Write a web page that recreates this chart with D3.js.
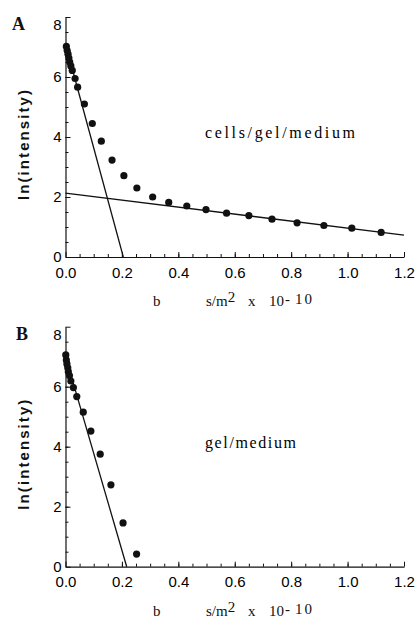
<!DOCTYPE html>
<html>
<head>
<meta charset="utf-8">
<script src="https://cdn.jsdelivr.net/npm/d3@7"></script>
<style>
    body { margin: 0; background: #fff; }
    svg { display: block; }
    .tick-label text { font-family: "Liberation Sans", Arial, sans-serif; font-size: 15px; fill: #000; }
    .domain { stroke: #111; stroke-width: 1.2; }
    .tick line { stroke: #111; stroke-width: 1; }
</style>
</head>
<body>
<svg id="chart" width="415" height="618"></svg>
<script>
// panel A: cells/gel/medium
var bA = [0.003, 0.006, 0.009, 0.012, 0.015, 0.019, 0.024, 0.034, 0.043, 0.067, 0.095, 0.127, 0.165,
          0.207, 0.253, 0.309, 0.366, 0.430, 0.498, 0.571, 0.650, 0.732, 0.821, 0.916, 1.015, 1.119];
var lnA = [7.02, 6.88, 6.76, 6.63, 6.50, 6.37, 6.22, 5.95, 5.66, 5.10, 4.45, 3.86, 3.23,
           2.71, 2.30, 2.00, 1.82, 1.70, 1.58, 1.46, 1.38, 1.26, 1.14, 1.05, 0.96, 0.82];
// fitted lines, [x0, y0, x1, y1]
var fastFitA = [0, 7.10, 0.205, 0];
var slowFitA = [0, 2.13, 1.2, 0.73];

// panel B: gel/medium
var bB = [0.001, 0.003, 0.005, 0.008, 0.010, 0.014, 0.019, 0.028, 0.040, 0.063, 0.090, 0.123, 0.161, 0.204, 0.252];
var lnB = [7.06, 6.89, 6.76, 6.63, 6.50, 6.37, 6.19, 5.97, 5.67, 5.15, 4.52, 3.75, 2.73, 1.46, 0.42];
var fastFitB = [0, 7.01, 0.217, 0];

var xTicks = [0, 0.2, 0.4, 0.6, 0.8, 1.0, 1.2];
var yTicks = [0, 2, 4, 6, 8];

var svg = d3.select('#chart');

var x = d3.scaleLinear().domain([0, 1.2]).range([65.5, 404]);

function drawPanel(opts) {
    var y = d3.scaleLinear().domain([0, 8]).range([opts.bottom, opts.bottom - 240]);
    var g = svg.append('g');

    // minor ticks, pointing inward
    g.append('g')
        .attr('transform', 'translate(' + x(0) + ',0)')
        .call(d3.axisLeft(y).tickValues(d3.range(0.5, 8, 0.5)).tickSize(-3).tickFormat(''))
        .select('.domain').remove();
    g.append('g')
        .attr('transform', 'translate(0,' + y(0) + ')')
        .call(d3.axisBottom(x).tickValues(d3.range(0.05, 1.2, 0.05)).tickSize(-3).tickFormat(''))
        .select('.domain').remove();

    // major ticks + labels
    var yAx = g.append('g')
        .attr('class', 'tick-label')
        .attr('transform', 'translate(' + x(0) + ',0)')
        .call(d3.axisLeft(y).tickValues(yTicks).tickSize(-5).tickPadding(4).tickSizeOuter(0).tickFormat(d3.format('d')));
    // top label sits a little below the end of the axis in the original
    yAx.selectAll('.tick text').filter(function(d) { return d === 8; }).attr('y', 8);

    g.append('g')
        .attr('class', 'tick-label')
        .attr('transform', 'translate(0,' + y(0) + ')')
        .call(d3.axisBottom(x).tickValues(xTicks).tickSize(-5).tickPadding(10).tickSizeOuter(0).tickFormat(d3.format('.1f')));

    // fitted lines
    opts.fits.forEach(function(f) {
        g.append('line')
            .attr('x1', x(f[0])).attr('y1', y(f[1]))
            .attr('x2', x(f[2])).attr('y2', y(f[3]))
            .attr('stroke', '#111')
            .attr('stroke-width', 1.3);
    });

    // data points
    g.selectAll('.pt').data(opts.xs).enter().append('circle')
        .attr('class', 'pt')
        .attr('cx', function(d) { return x(d); })
        .attr('cy', function(d, i) { return y(opts.ys[i]); })
        .attr('r', 3.6)
        .attr('fill', '#111');

    // panel letter
    g.append('text')
        .attr('x', opts.letterX).attr('y', y(0) - 227)
        .attr('font-family', '"Liberation Serif", "Times New Roman", serif')
        .attr('font-weight', 'bold')
        .attr('font-size', 18)
        .attr('fill', '#111')
        .text(opts.letter);

    // y title
    g.append('text')
        .attr('transform', 'translate(29,' + (y(0) - 112) + ') rotate(-90)')
        .attr('text-anchor', 'middle')
        .attr('font-family', '"Liberation Sans", Arial, sans-serif')
        .attr('font-weight', 'bold')
        .attr('font-size', 15)
        .attr('textLength', 110)
        .attr('lengthAdjust', 'spacing')
        .attr('fill', '#111')
        .text('ln(intensity)');

    // sample label
    g.append('text')
        .attr('x', 205).attr('y', y(0) - 119)
        .attr('font-family', '"Liberation Serif", "Times New Roman", serif')
        .attr('font-size', 16)
        .attr('textLength', opts.labelLen)
        .attr('lengthAdjust', 'spacing')
        .attr('fill', '#000')
        .text(opts.label);

    // x title
    var xt = g.append('text')
        .attr('y', y(0) + 49)
        .attr('font-family', '"Liberation Serif", "Times New Roman", serif')
        .attr('font-size', 15)
        .attr('fill', '#111');
    xt.append('tspan').attr('x', 153).text('b');
    xt.append('tspan').attr('x', 206).text('s/m');
    xt.append('tspan').attr('dy', -4).text('2');
    xt.append('tspan').attr('dy', 4).attr('x', 248).text('x');
    xt.append('tspan').attr('x', 269).text('10');
    xt.append('tspan').attr('dy', -2).attr('x', 285).text('-');
    xt.append('tspan').attr('x', 295).attr('letter-spacing', 2).text('10');
}

drawPanel({
    bottom: 257, xs: bA, ys: lnA, fits: [fastFitA, slowFitA],
    letter: 'A', letterX: 12, label: 'cells/gel/medium', labelLen: 150
});
drawPanel({
    bottom: 566.7, xs: bB, ys: lnB, fits: [fastFitB],
    letter: 'B', letterX: 16, label: 'gel/medium', labelLen: 91
});
</script>
</body>
</html>
